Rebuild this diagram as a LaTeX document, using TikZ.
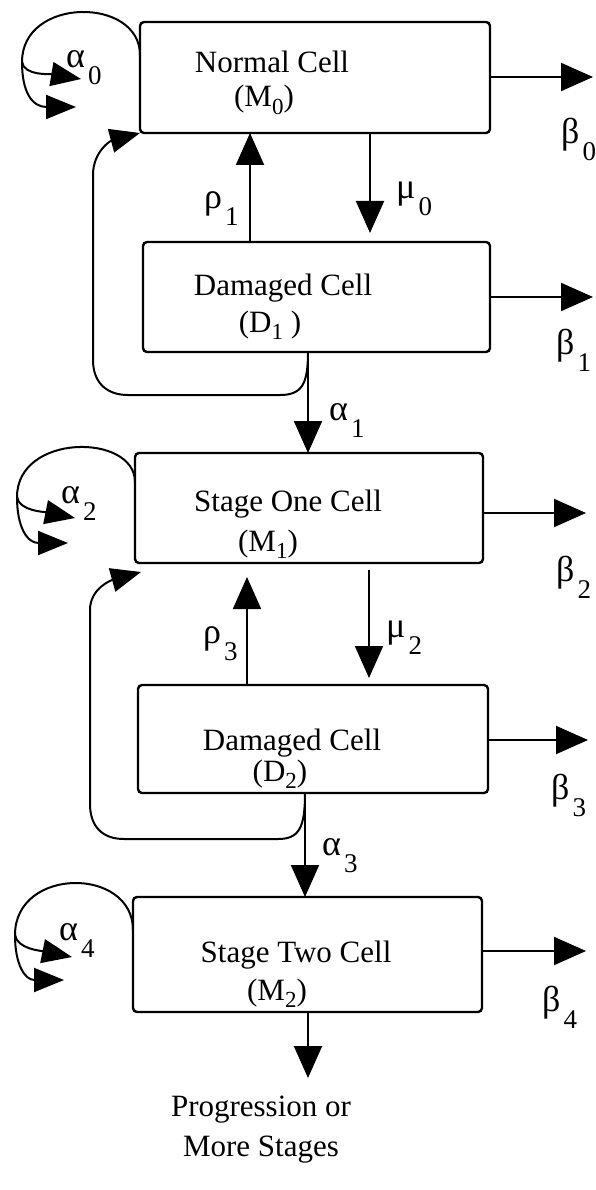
\documentclass[tikz,border=0pt]{standalone}
\usepackage{fontspec}
\setmainfont{Liberation Serif}
\usetikzlibrary{arrows.meta,calc}
\newcommand\sbx[1]{\raisebox{-0.25em}{\fontsize{23}{23}\selectfont #1}}
\newcommand\glab[2]{#1\kern3pt\raisebox{-17pt}{\fontsize{27}{27}\selectfont #2}}
\begin{document}
\begin{tikzpicture}[x=1pt,y=-1pt,
  box/.style={draw, line width=2.4pt, rounded corners=4pt, inner sep=0pt, outer sep=0pt},
  txt/.style={inner sep=0pt, anchor=base, font=\fontsize{31}{36}\selectfont},
  glb/.style={inner sep=0pt, anchor=base west, font=\fontsize{36}{40}\selectfont},
  line/.style={line width=2pt},
  conn/.style={line width=2pt, -{Triangle[length=32pt,width=28pt]}},
  small/.style={line width=2pt, -{Triangle[length=30pt,width=24pt]}}]
\useasboundingbox (0,0) rectangle (595,1190);
% boxes
\node[box, minimum width=350pt, minimum height=111pt] (b1) at (315,77.5) {};
\node[box, minimum width=347pt, minimum height=110pt] (b2) at (316.5,297) {};
\node[box, minimum width=348pt, minimum height=110pt] (b3) at (309,508) {};
\node[box, minimum width=350pt, minimum height=108pt] (b4) at (313,739) {};
\node[box, minimum width=349pt, minimum height=115pt] (b5) at (307.5,954.5) {};
% box texts
\node[txt] (t1a) at (272,73) {Normal Cell};
\node[txt] (t1b) at (264,107) {(M\sbx{0})};
\node[txt] (t2a) at (283,295) {Damaged Cell};
\node[txt] (t2b) at (270,332) {(D\sbx{1} )};
\node[txt] (t3a) at (288,511) {Stage One Cell};
\node[txt] (t3b) at (268,551) {(M\sbx{1})};
\node[txt] (t4a) at (292,750) {Damaged Cell};
\node[txt] (t4b) at (280,781) {(D\sbx{2})};
\node[txt] (t5a) at (296,962) {Stage Two Cell};
\node[txt] (t5b) at (277,1000) {(M\sbx{2})};
\node[inner sep=0pt, anchor=north, align=center, font=\fontsize{31}{40}\selectfont] (prog) at (261,1096) {Progression or\\More Stages};
% greek labels
\node[glb] (la0) at (66,68) {\glab{α}{0}};
\node[glb] (lb0) at (561,144) {\glab{β}{0}};
\node[glb] (lm0) at (396,199) {\glab{μ}{0}};
\node[glb] (lr1) at (204,209) {\glab{ρ}{1}};
\node[glb] (lb1) at (556,354) {\glab{β}{1}};
\node[glb] (la1) at (329,420) {\glab{α}{1}};
\node[glb] (la2) at (61,503) {\glab{α}{2}};
\node[glb] (lb2) at (556,581) {\glab{β}{2}};
\node[glb] (lr3) at (203,643) {\glab{ρ}{3}};
\node[glb] (lm2) at (386,637) {\glab{μ}{2}};
\node[glb] (lb3) at (551,799) {\glab{β}{3}};
\node[glb] (la3) at (322,855) {\glab{α}{3}};
\node[glb] (la4) at (59,940) {\glab{α}{4}};
\node[glb] (lb4) at (542,1011) {\glab{β}{4}};
% beta outflow arrows
\coordinate (e0) at (593,77);
\coordinate (e1) at (593,297);
\coordinate (e2) at (586,513);
\coordinate (e3) at (588,740);
\coordinate (e4) at (586,951);
\draw[conn] (b1.east |- e0) -- (e0);
\draw[conn] (b2.east |- e1) -- (e1);
\draw[conn] (b3.east |- e2) -- (e2);
\draw[conn] (b4.east |- e3) -- (e3);
\draw[conn] (b5.east |- e4) -- (e4);
% vertical transitions
\draw[conn, shorten >=9pt] (b1.south -| 370,0) -- (b2.north -| 370,0);
\draw[conn] (b2.north -| 250,0) -- (b1.south -| 250,0);
\draw[conn] (b2.south -| 308,0) -- (b3.north -| 308,0);
\draw[conn, shorten <=7pt, shorten >=7pt] (b3.south -| 369,0) -- (b4.north -| 369,0);
\draw[conn, shorten >=14pt] (b4.north -| 247,0) -- (b3.south -| 247,0);
\draw[conn] (b4.south -| 305,0) -- (b5.north -| 305,0);
\draw[conn, shorten >=18pt] (b5.south -| 308,0) -- (prog.north -| 308,0);
% feedback loops
\draw[small] (b2.south -| 308,0) .. controls (308,384) and (302,395) .. (280,395) -- (128,395)
  .. controls (106,395) and (93,382) .. (93,360) -- (93,175)
  .. controls (93,152) and (110,141) .. (b1.south west);
\draw[small] (b4.south -| 305,0) .. controls (305,828) and (299,839) .. (278,839) -- (124,839)
  .. controls (102,839) and (90,826) .. (90,804) -- (90,610)
  .. controls (90,588) and (112,580) .. ($(b3.south west)+(6,9)$);
% self loops
\coordinate (L1) at (22,62);
\coordinate (P1) at (81,79);
\coordinate (Q1) at (76,107);
\draw[line] (b1.west |- 0,55) .. controls (140,-3.5) and (22,-3.5) .. (L1);
\draw[small] (L1) .. controls (24,76) and (51,74) .. (P1);
\draw[small] (L1) .. controls (22,92) and (32,107) .. (Q1);
\coordinate (L3) at (17,497);
\coordinate (P3) at (75,518);
\coordinate (Q3) at (68,543);
\draw[line] (b3.west |- 0,482) .. controls (135,433) and (17,433) .. (L3);
\draw[small] (L3) .. controls (19,511) and (45,512) .. (P3);
\draw[small] (L3) .. controls (17,527) and (27,543) .. (Q3);
\coordinate (L5) at (15,935);
\coordinate (P5) at (72,957);
\coordinate (Q5) at (64,980);
\draw[line] (b5.west |- 0,930) .. controls (133,866.5) and (15,866.5) .. (L5);
\draw[small] (L5) .. controls (17,949) and (42,951) .. (P5);
\draw[small] (L5) .. controls (15,965) and (25,980) .. (Q5);
\end{tikzpicture}
\end{document}
